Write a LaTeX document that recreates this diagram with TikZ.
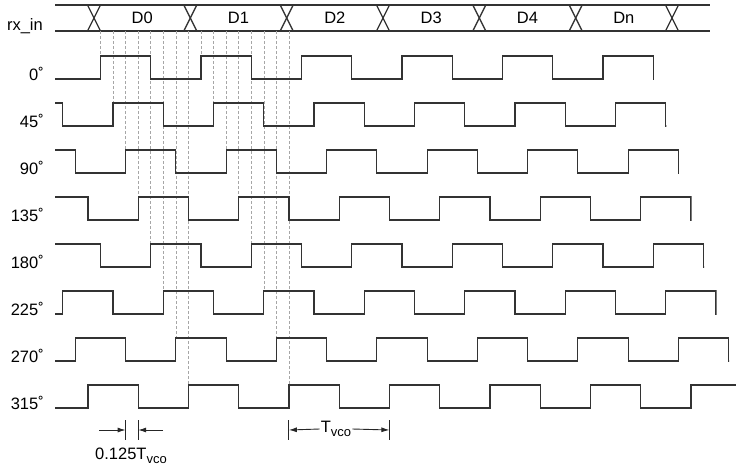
\documentclass[tikz,border=0pt]{standalone}
\usepackage{fontspec}
\setmainfont{Liberation Sans}
\usetikzlibrary{arrows.meta}

\newcommand\vcosub{\raisebox{-0.45ex}{\fontsize{13}{13}\selectfont vco}}

\begin{document}
\begin{tikzpicture}[x=1pt,y=-1pt,
  wave/.style={line width=1.2pt,black!80},
  bus/.style={line width=1.3pt,black!80},
  guide/.style={line width=0.6pt,gray!70,dash pattern=on 3pt off 2pt},
  lbl/.style={font=\fontsize{16.5}{19}\selectfont,inner sep=0pt},
  dim/.style={line width=0.9pt,black!85,-{Latex[length=8pt,width=5pt]}},
  tick/.style={line width=0.9pt,black!85}]
\useasboundingbox (0,0) rectangle (736,471);

% rx_in bus
\node[lbl,anchor=base east] (rx) at (43,30) {rx\_in};
\draw[bus] (55,5) -- (710,5);
\draw[bus] (55,31) -- (710,31);
\foreach \i in {0,...,6}{
  \draw[bus] ({94+96.33*\i-6.5},5) -- ({94+96.33*\i+6.5},31);
  \draw[bus] ({94+96.33*\i-6.5},31) -- ({94+96.33*\i+6.5},5);
}
\foreach \i/\t in {0/D0,1/D1,2/D2,3/D3,4/D4,5/Dn}
  \node[lbl] (d\i) at ({94+96.33*(\i+0.5)},18) {\t};

% sampling instants
\foreach \k in {0,...,7}
  \foreach \n in {0,1}
    \draw[guide] ({100.5+12.5625*\k+100.5*\n},31) -- ({100.5+12.5625*\k+100.5*\n},{56+47*\k});

% clock phases
\foreach \k/\p in {0/0,1/45,2/90,3/135,4/180,5/225,6/270,7/315}{
  \pgfmathsetmacro\r{100.5+12.5625*\k}
  \pgfmathsetmacro\yh{56+47*\k}
  \pgfmathsetmacro\xe{\r+5.5*100.5+0.6}
  \node[lbl,anchor=base east] (ph\p) at (44,{\yh+24}) {\p˚};
  \begin{scope}
    \clip (55,{\yh-3}) rectangle (\xe,{\yh+26});
    \draw[wave] ({\r-201},{\yh+23})
      \foreach \n in {1,...,8}{ -- ++(0,-23) -- ++(50.25,0) -- ++(0,23) -- ++(50.25,0)};
  \end{scope}
}

% 0.125 Tvco
\coordinate (qa) at (125.6,430);
\coordinate (qb) at (138.2,430);
\coordinate (qas) at (99,430);
\coordinate (qbs) at (163,430);
\draw[tick] (qa) ++(0,-10) -- ++(0,20);
\draw[tick] (qb) ++(0,-10) -- ++(0,20);
\draw[dim] (qas) -- (qa);
\draw[dim] (qbs) -- (qb);
\node[lbl] (q) at (131,456) {0.125T\vcosub};

% Tvco
\coordinate (ta) at (288.9,430);
\coordinate (tb) at (389.4,430);
\draw[tick] (ta) ++(0,-10) -- ++(0,20);
\draw[tick] (tb) ++(0,-10) -- ++(0,20);
\node[lbl,inner xsep=1pt] (tv) at (336,429) {T\vcosub};
\draw[dim] (tv.west) -- (ta);
\draw[dim] (tv.east) -- (tb);
\end{tikzpicture}
\end{document}
